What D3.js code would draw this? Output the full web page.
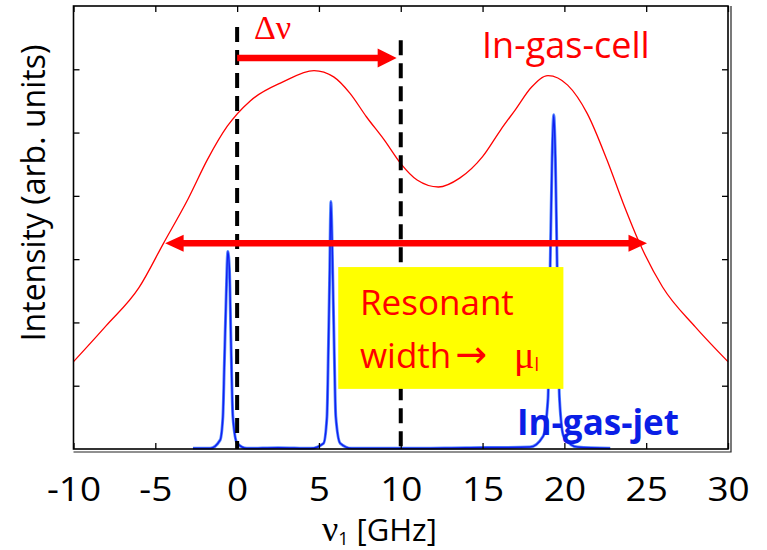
<!DOCTYPE html>
<html>
<head>
<meta charset="utf-8">
<script src="https://cdn.jsdelivr.net/npm/d3@7"></script>
<style>
  body { margin: 0; background: #fff; }
  svg { display: block; font-family: "Open Sans", sans-serif; }
</style>
</head>
<body>
<div id="chart"></div>
<script>
// In-gas-cell spectrum (broad, red)
const cellX = [-10, -8, -6, -4.5, -3, -1.8, -0.6, 0.8, 2.8, 4.7, 5.9, 6.9, 7.9, 9, 10, 11, 12.3, 13.6, 15, 16.1, 17, 18, 19, 20.2, 21.4, 22.6, 23.6, 24.6, 26, 28, 30];
const cellY = [1.38, 1.95, 2.55, 3.25, 3.95, 4.58, 5.1, 5.5, 5.8, 5.98, 5.88, 5.62, 5.25, 4.88, 4.51, 4.25, 4.14, 4.28, 4.62, 5.04, 5.36, 5.72, 5.9, 5.75, 5.3, 4.57, 3.88, 3.25, 2.56, 1.93, 1.38];

// In-gas-jet spectrum (narrow, blue)
const jetX = [-2.7, -1.65, -1.04, -0.87, -0.78, -0.67, -0.57, -0.47, -0.37, -0.26, 0.0, 0.6, 2.5, 4.5, 5.28, 5.49, 5.58, 5.65, 5.73, 5.85, 5.93, 6.03, 6.3, 7.0, 10, 14, 17.9, 18.7, 19.0, 19.14, 19.25, 19.35, 19.45, 19.55, 19.7, 19.96, 20.8, 22.8];
const jetY = [0.01, 0.01, 0.14, 0.51, 1.35, 2.41, 3.12, 2.83, 1.62, 0.51, 0.09, 0.01, 0.02, 0.01, 0.09, 0.51, 1.62, 2.67, 3.91, 2.67, 1.62, 0.51, 0.09, 0.01, 0.01, 0.02, 0.03, 0.2, 0.8, 3.0, 4.6, 5.28, 4.6, 3.0, 0.8, 0.2, 0.03, 0.01];

const xTicks  = [-10, -5, 0, 5, 10, 15, 20, 25, 30];
const xLabels = ['-10', '-5', '0', '5', '10', '15', '20', '25', '30'];
const yTicks  = [1, 2, 3, 4, 5, 6];

// Annotations (data units)
const dashX    = [0, 10];
const dashTop  = [6.67, 6.46];
const shiftArrow = { from: 0, to: 9.75, level: 6.18 };
const widthArrow = { from: -4.4, to: 25.05, level: 3.25 };
const box = { x0: 6.18, x1: 19.94, y0: 2.875, y1: 0.95 };

// Layout
const width  = 767;
const height = 550;
const plotLeft = 73.5, plotRight = 728, plotTop = 6, plotBottom = 449;
const serif = '"Liberation Serif", "DejaVu Serif", serif';

const svg = d3.select('#chart')
  .append('svg')
    .attr('width', width)
    .attr('height', height);

const x = d3.scaleLinear().domain([-10, 30]).range([plotLeft, plotRight]);
const y = d3.scaleLinear().domain([0, 7]).range([plotBottom, plotTop]);

// Curves
const cellLine = d3.line()
  .x((d, i) => x(cellX[i]))
  .y(d => y(d))
  .curve(d3.curveMonotoneX);

svg.append('path')
  .attr('d', cellLine(cellY))
  .attr('fill', 'none')
  .attr('stroke', '#ff0000')
  .attr('stroke-width', 1.3);

const jetLine = d3.line()
  .x((d, i) => x(jetX[i]))
  .y(d => y(d))
  .curve(d3.curveMonotoneX);

svg.append('path')
  .attr('d', jetLine(jetY))
  .attr('fill', 'none')
  .attr('stroke', '#5a8cff')
  .attr('stroke-width', 3);

svg.append('path')
  .attr('d', jetLine(jetY))
  .attr('fill', 'none')
  .attr('stroke', '#1020f0')
  .attr('stroke-width', 1.5);

// Dashed markers
dashX.forEach((v, i) => {
  svg.append('line')
    .attr('x1', x(v)).attr('x2', x(v))
    .attr('y1', y(dashTop[i])).attr('y2', y(0))
    .attr('stroke', '#000')
    .attr('stroke-width', 4)
    .attr('stroke-dasharray', '15,8');
});

// Arrows
function arrowPath(x1, x2, yy, t, L, h, both) {
  const p = d3.path();
  if (both) {
    p.moveTo(x1, yy);
    p.lineTo(x1 + L, yy - h);
    p.lineTo(x1 + L, yy - t / 2);
  } else {
    p.moveTo(x1, yy - t / 2);
  }
  p.lineTo(x2 - L, yy - t / 2);
  p.lineTo(x2 - L, yy - h);
  p.lineTo(x2, yy);
  p.lineTo(x2 - L, yy + h);
  p.lineTo(x2 - L, yy + t / 2);
  if (both) {
    p.lineTo(x1 + L, yy + t / 2);
    p.lineTo(x1 + L, yy + h);
  } else {
    p.lineTo(x1, yy + t / 2);
  }
  p.closePath();
  return p.toString();
}

svg.append('path')
  .attr('d', arrowPath(x(shiftArrow.from), x(shiftArrow.to), y(shiftArrow.level), 6.5, 19, 9.5, false))
  .attr('fill', '#ff0000');

svg.append('path')
  .attr('d', arrowPath(x(widthArrow.from), x(widthArrow.to), y(widthArrow.level), 6.5, 18.5, 8.5, true))
  .attr('fill', '#ff0000');

// Yellow box (drawn over the dashed line and the blue peak)
svg.append('rect')
  .attr('x', x(box.x0))
  .attr('y', y(box.y0))
  .attr('width', x(box.x1) - x(box.x0))
  .attr('height', y(box.y1) - y(box.y0))
  .attr('fill', '#ffff00')
  .raise();

// Axes (ticks point inward)
const xAxis = svg.append('g')
  .attr('transform', `translate(0,${plotBottom})`)
  .call(d3.axisBottom(x).tickValues(xTicks).tickSize(-6).tickPadding(29)
    .tickFormat((d, i) => xLabels[i]));
xAxis.select('.domain').remove();
xAxis.selectAll('text')
  .attr('font-size', 33)
  .attr('font-family', '"Open Sans", sans-serif')
  .attr('transform', 'scale(1.12,1)')
  .attr('fill', '#000');

const topAxis = svg.append('g')
  .attr('transform', `translate(0,${plotTop})`)
  .call(d3.axisTop(x).tickValues(xTicks).tickSize(-6).tickFormat(''));
topAxis.select('.domain').remove();

const leftAxis = svg.append('g')
  .attr('transform', `translate(${plotLeft},0)`)
  .call(d3.axisLeft(y).tickValues(yTicks).tickSize(-6).tickFormat(''));
leftAxis.select('.domain').remove();

const rightAxis = svg.append('g')
  .attr('transform', `translate(${plotRight},0)`)
  .call(d3.axisRight(y).tickValues(yTicks).tickSize(-6).tickFormat(''));
rightAxis.select('.domain').remove();

svg.selectAll('.tick line').attr('stroke-width', 1.3);

// Frame with a slight drop line on right and bottom
svg.append('rect')
  .attr('x', plotLeft).attr('y', plotTop)
  .attr('width', plotRight - plotLeft).attr('height', plotBottom - plotTop)
  .attr('fill', 'none')
  .attr('stroke', '#000')
  .attr('stroke-width', 1.6);

svg.append('path')
  .attr('d', `M${plotLeft},${plotBottom + 3}H${plotRight + 3}V${plotTop}`)
  .attr('fill', 'none')
  .attr('stroke', '#222')
  .attr('stroke-width', 1.2);

// Axis titles
svg.append('text')
  .attr('transform', 'translate(45,193) rotate(-90)')
  .attr('text-anchor', 'middle')
  .attr('font-size', 32)
  .attr('fill', '#000')
  .text('Intensity (arb. units)');

const xTitle = svg.append('text')
  .attr('x', 322)
  .attr('y', 541)
  .attr('fill', '#000');
xTitle.append('tspan')
  .attr('font-family', serif)
  .attr('font-size', 36)
  .text('ν');
xTitle.append('tspan')
  .attr('font-size', 18)
  .attr('dy', 4)
  .text('1');
xTitle.append('tspan')
  .attr('font-size', 31)
  .attr('dy', -4)
  .attr('dx', 8)
  .text('[GHz]');

// Labels
svg.append('text')
  .attr('x', 254)
  .attr('y', 39)
  .attr('font-family', serif)
  .attr('font-size', 34)
  .attr('fill', '#ff0000')
  .text('Δν');

svg.append('text')
  .attr('x', 482)
  .attr('y', 58)
  .attr('font-size', 36)
  .attr('fill', '#ff0000')
  .text('In-gas-cell');

svg.append('text')
  .attr('x', 517)
  .attr('y', 435)
  .attr('font-size', 35)
  .attr('font-weight', 'bold')
  .attr('fill', '#0a1ee6')
  .text('In-gas-jet');

svg.append('text')
  .attr('x', 360)
  .attr('y', 315)
  .attr('font-size', 35)
  .attr('fill', '#ff0000')
  .text('Resonant');

const widthText = svg.append('text')
  .attr('x', 360)
  .attr('y', 368)
  .attr('font-size', 35)
  .attr('fill', '#ff0000');
widthText.append('tspan').text('width');
widthText.append('tspan')
  .attr('font-family', '"DejaVu Sans", sans-serif')
  .attr('font-size', 38)
  .attr('dx', 4)
  .attr('dy', -1)
  .text('→');
widthText.append('tspan')
  .attr('x', 514)
  .attr('dy', 1)
  .attr('font-family', serif)
  .attr('font-size', 38)
  .text('μ');
widthText.append('tspan')
  .attr('font-size', 18)
  .attr('dy', 3)
  .text('l');
</script>
</body>
</html>
